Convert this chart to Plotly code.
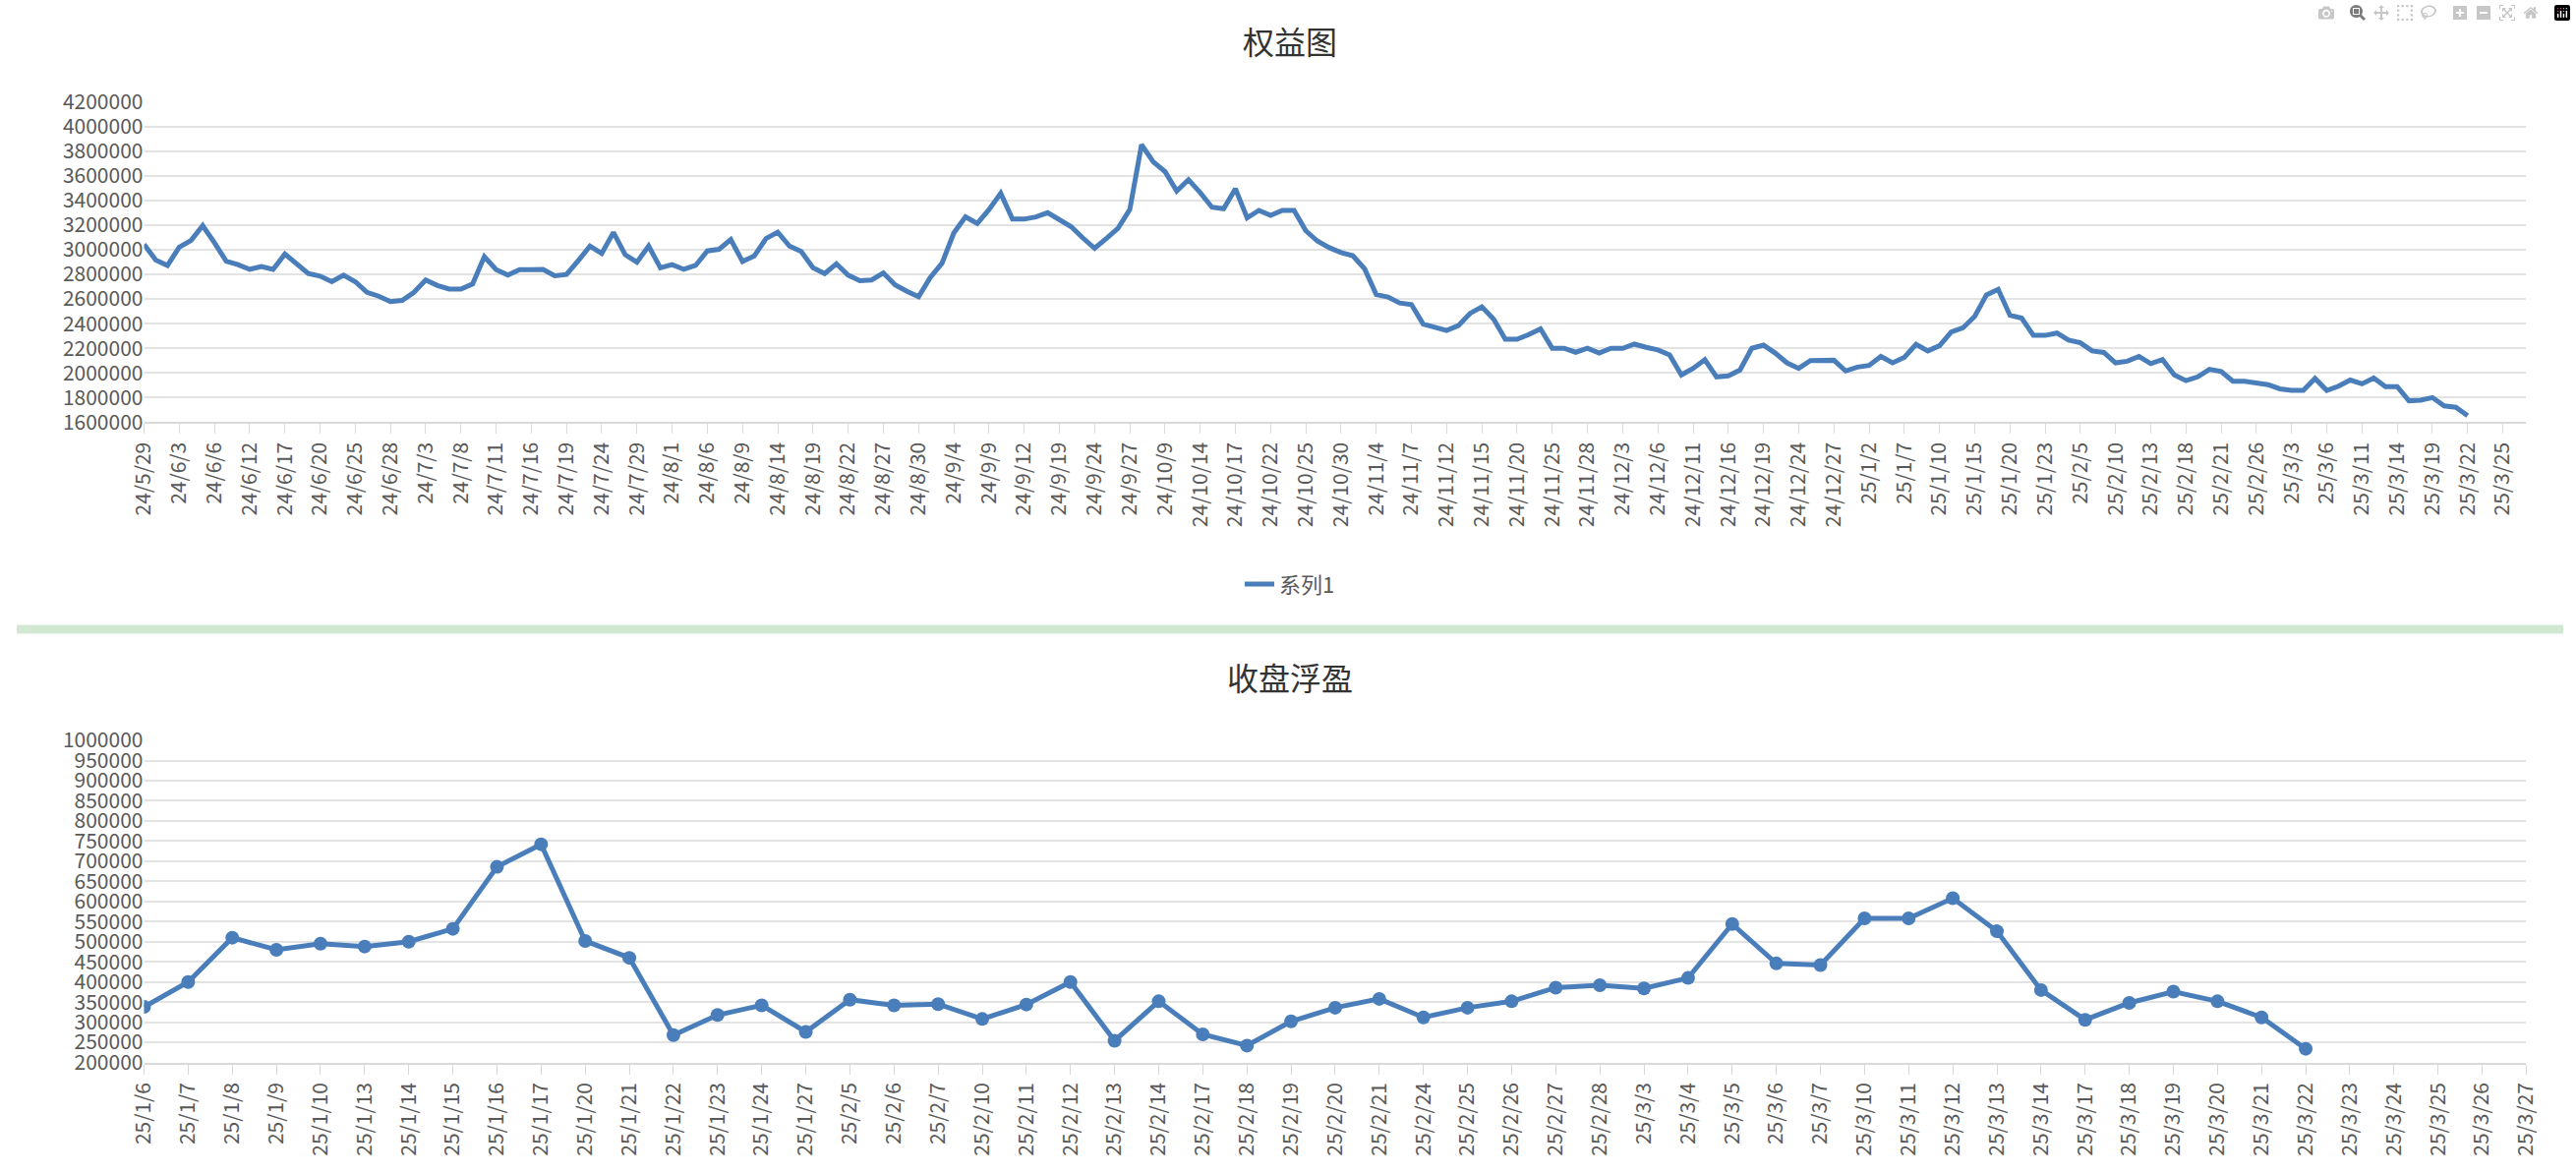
import plotly.graph_objects as go

# ---- 权益图 data (one value per trading day, labels every 3rd day) ----
equity = [
    3044000, 2917000, 2873000, 3022000, 3075000, 3196000, 3057000, 2907000, 2880000, 2841000,
    2865000, 2841000, 2965000, 2886000, 2807000, 2786000, 2741000, 2794000, 2741000, 2655000,
    2623000, 2579000, 2589000, 2655000, 2755000, 2710000, 2681000, 2681000, 2723000, 2944000,
    2839000, 2794000, 2839000, 2839000, 2841000, 2789000, 2799000, 2912000, 3030000, 2970000,
    3141000, 2960000, 2899000, 3030000, 2854000, 2880000, 2841000, 2873000, 2991000, 3004000,
    3083000, 2904000, 2950000, 3091000, 3143000, 3030000, 2986000, 2854000, 2807000, 2886000,
    2794000, 2749000, 2755000, 2812000, 2715000, 2663000, 2618000, 2776000, 2891000, 3136000,
    3267000, 3214000, 3327000, 3459000, 3249000, 3249000, 3267000, 3301000, 3246000, 3188000,
    3096000, 3012000, 3091000, 3175000, 3327000, 3853000, 3714000, 3635000, 3477000, 3569000,
    3464000, 3346000, 3333000, 3496000, 3259000, 3320000, 3280000, 3320000, 3320000, 3154000,
    3070000, 3017000, 2978000, 2952000, 2847000, 2636000, 2616000, 2568000, 2555000, 2397000,
    2371000, 2345000, 2384000, 2484000, 2537000, 2437000, 2274000, 2274000, 2311000, 2358000,
    2200000, 2200000, 2168000, 2200000, 2161000, 2200000, 2200000, 2234000, 2208000, 2187000,
    2147000, 1984000, 2037000, 2108000, 1968000, 1976000, 2024000, 2200000, 2226000, 2161000,
    2082000, 2037000, 2100000, 2100000, 2103000, 2016000, 2047000, 2061000, 2134000, 2082000,
    2126000, 2232000, 2179000, 2221000, 2332000, 2366000, 2460000, 2634000, 2679000, 2468000,
    2445000, 2305000, 2305000, 2324000, 2266000, 2245000, 2179000, 2166000, 2082000, 2095000,
    2134000, 2076000, 2108000, 1984000, 1937000, 1968000, 2029000, 2011000, 1932000, 1932000,
    1918000, 1905000, 1871000, 1858000, 1858000, 1955000, 1858000, 1892000, 1942000, 1911000,
    1958000, 1889000, 1889000, 1774000, 1779000, 1800000, 1732000, 1721000, 1653000,
]
equity_ticks = [
    "24/5/29", "24/6/3", "24/6/6", "24/6/12", "24/6/17", "24/6/20", "24/6/25", "24/6/28",
    "24/7/3", "24/7/8", "24/7/11", "24/7/16", "24/7/19", "24/7/24", "24/7/29", "24/8/1",
    "24/8/6", "24/8/9", "24/8/14", "24/8/19", "24/8/22", "24/8/27", "24/8/30", "24/9/4",
    "24/9/9", "24/9/12", "24/9/19", "24/9/24", "24/9/27", "24/10/9", "24/10/14", "24/10/17",
    "24/10/22", "24/10/25", "24/10/30", "24/11/4", "24/11/7", "24/11/12", "24/11/15", "24/11/20",
    "24/11/25", "24/11/28", "24/12/3", "24/12/6", "24/12/11", "24/12/16", "24/12/19", "24/12/24",
    "24/12/27", "25/1/2", "25/1/7", "25/1/10", "25/1/15", "25/1/20", "25/1/23", "25/2/5",
    "25/2/10", "25/2/13", "25/2/18", "25/2/21", "25/2/26", "25/3/3", "25/3/6", "25/3/11",
    "25/3/14", "25/3/19", "25/3/22", "25/3/25",
]

# ---- 收盘浮盈 data ----
float_dates = [
    "25/1/6", "25/1/7", "25/1/8", "25/1/9", "25/1/10", "25/1/13", "25/1/14", "25/1/15",
    "25/1/16", "25/1/17", "25/1/20", "25/1/21", "25/1/22", "25/1/23", "25/1/24", "25/1/27",
    "25/2/5", "25/2/6", "25/2/7", "25/2/10", "25/2/11", "25/2/12", "25/2/13", "25/2/14",
    "25/2/17", "25/2/18", "25/2/19", "25/2/20", "25/2/21", "25/2/24", "25/2/25", "25/2/26",
    "25/2/27", "25/2/28", "25/3/3", "25/3/4", "25/3/5", "25/3/6", "25/3/7", "25/3/10",
    "25/3/11", "25/3/12", "25/3/13", "25/3/14", "25/3/17", "25/3/18", "25/3/19", "25/3/20",
    "25/3/21", "25/3/22", "25/3/23", "25/3/24", "25/3/25", "25/3/26", "25/3/27",
]
float_pnl = [
    338000, 400000, 510000, 480000, 495000, 488000, 500000, 532000, 686000, 742000,
    502000, 460000, 268000, 318000, 342000, 276000, 356000, 342000, 345000, 308000,
    344000, 400000, 254000, 352000, 270000, 242000, 302000, 336000, 358000, 312000,
    336000, 352000, 386000, 392000, 384000, 410000, 544000, 446000, 442000, 558000,
    558000, 608000, 526000, 380000, 306000, 348000, 376000, 352000, 312000, 234000,
]

BLUE = "#4A7EBB"
GRID = "#e3e3e3"
TXT = "#595959"
FONT = "Noto Sans CJK SC, Noto Sans, sans-serif"
H = 1194

fig = go.Figure()

fig.add_trace(go.Scatter(
    x=list(range(len(equity))), y=equity, mode="lines", name="系列1",
    line=dict(color=BLUE, width=5), xaxis="x", yaxis="y",
))
fig.add_trace(go.Scatter(
    x=float_dates[:len(float_pnl)], y=float_pnl, mode="lines+markers", name="收盘浮盈",
    line=dict(color=BLUE, width=5), marker=dict(size=14, color=BLUE),
    xaxis="x2", yaxis="y2", showlegend=False,
))
# keeps the empty tail dates on the axis
fig.add_trace(go.Scatter(
    x=float_dates, y=[None] * len(float_dates), xaxis="x2", yaxis="y2",
    showlegend=False, hoverinfo="skip", mode="lines",
))

xdom = [131 / 2620, 2582 / 2620]
axfont = dict(family=FONT, size=21, color=TXT)

fig.update_layout(
    width=2620, height=H,
    margin=dict(l=0, r=0, t=0, b=0),
    paper_bgcolor="white", plot_bgcolor="white",
    font=dict(family=FONT, color=TXT),
    xaxis=dict(
        domain=xdom, anchor="y", range=[0, 203],
        tickmode="array", tickvals=list(range(0, 3 * len(equity_ticks), 3)), ticktext=equity_ticks,
        tickangle=-90, tickfont=axfont, showgrid=False, zeroline=False,
        showline=True, linecolor="#d9d9d9", linewidth=2,
        ticks="outside", ticklen=10, tickcolor="#d9d9d9",
    ),
    yaxis=dict(
        domain=[1 - 423 / H, 1 - 89 / H], anchor="x", range=[1600000, 4200000], dtick=200000,
        tickformat="d", tickfont=axfont, gridcolor=GRID, gridwidth=2, zeroline=False,
    ),
    xaxis2=dict(
        domain=xdom, anchor="y2", type="category", categoryarray=float_dates,
        categoryorder="array", range=[0, len(float_dates) - 1],
        tickangle=-90, tickfont=axfont, showgrid=False, zeroline=False,
        showline=True, linecolor="#d9d9d9", linewidth=2,
        ticks="outside", ticklen=10, tickcolor="#d9d9d9",
    ),
    yaxis2=dict(
        domain=[1 - 1091 / H, 1 - 755 / H], anchor="x2", range=[200000, 1000000], dtick=50000,
        tickformat="d", tickfont=axfont, gridcolor=GRID, gridwidth=2, zeroline=False,
    ),
    showlegend=True,
    legend=dict(
        orientation="h", x=0.5, xanchor="center", y=1 - 592 / H, yanchor="middle",
        font=dict(family=FONT, size=22, color=TXT),
    ),
)

fig.add_annotation(text="权益图", x=0.5, y=1 - 25 / H, xref="paper", yref="paper",
                   yanchor="middle", showarrow=False,
                   font=dict(family=FONT, size=32, color="#333333"))
fig.add_annotation(text="收盘浮盈", x=0.5, y=1 - 688 / H, xref="paper", yref="paper",
                   yanchor="middle", showarrow=False,
                   font=dict(family=FONT, size=32, color="#333333"))

# light green separator between the two charts
fig.add_shape(type="line", xref="paper", yref="paper", x0=0, x1=1,
              y0=1 - 639 / H, y1=1 - 639 / H, line=dict(color="#d3e8d3", width=9))

fig.write_html(
    "out.html",
    post_script="document.body.style.margin='0';document.body.style.overflow='hidden';",
)
